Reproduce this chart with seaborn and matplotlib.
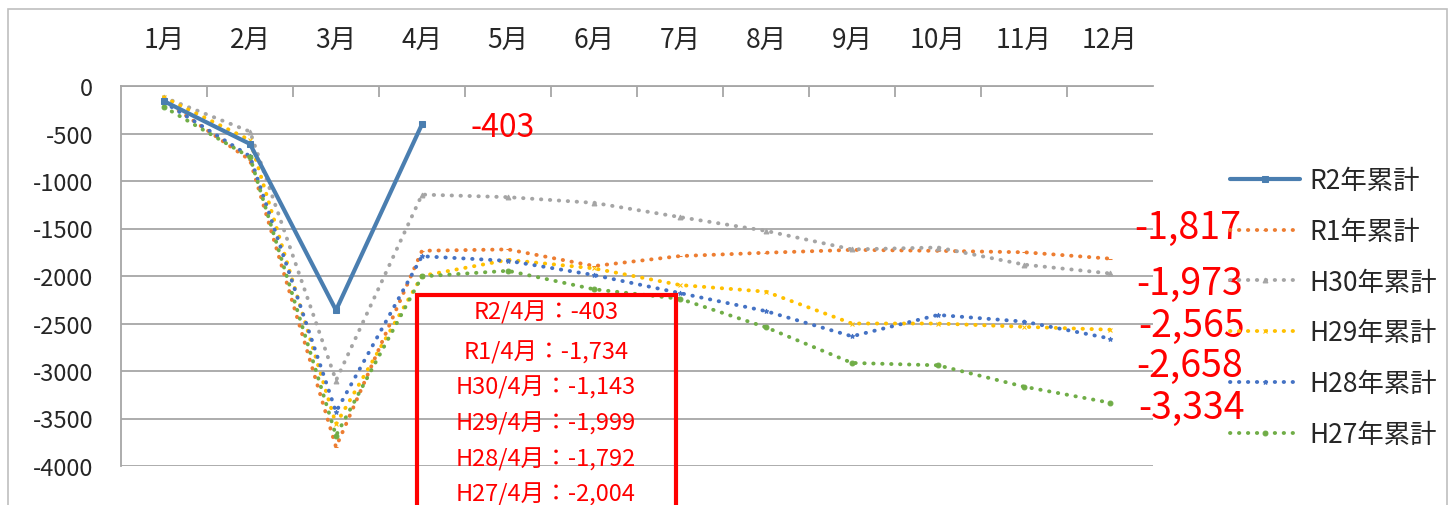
import matplotlib
matplotlib.use("Agg")
import matplotlib.pyplot as plt
import matplotlib.patches as mpatches
import seaborn as sns
import numpy as np

sns.set_style("white")
plt.rcParams['font.family'] = ['Noto Sans CJK JP', 'DejaVu Sans']

months = ['1月', '2月', '3月', '4月', '5月', '6月', '7月', '8月', '9月', '10月', '11月', '12月']
r2 = [-160, -610, -2360, -403]
r1 = [-150, -780, -3800, -1734, -1720, -1895, -1790, -1755, -1725, -1735, -1750, -1817]
h30 = [-120, -480, -3100, -1143, -1170, -1230, -1380, -1525, -1720, -1700, -1880, -1973]
h29 = [-120, -570, -3560, -1999, -1830, -1920, -2095, -2165, -2500, -2500, -2535, -2565]
h28 = [-170, -740, -3430, -1792, -1840, -1990, -2180, -2370, -2635, -2410, -2480, -2658]
h27 = [-220, -750, -3680, -2004, -1945, -2140, -2240, -2540, -2915, -2940, -3165, -3334]

series_names = ['R2年累計', 'R1年累計', 'H30年累計', 'H29年累計', 'H28年累計', 'H27年累計']
series_vals = [r2, r1, h30, h29, h28, h27]
colors = ['#4A7EB0', '#ED7D31', '#A5A5A5', '#FFC000', '#4472C4', '#70AD47']
markers = ['s', '_', '^', 'x', '*', 'o']

box_lines = ['R2/4月：-403', 'R1/4月：-1,734', 'H30/4月：-1,143',
             'H29/4月：-1,999', 'H28/4月：-1,792', 'H27/4月：-2,004']
end_labels = ['-1,817', '-1,973', '-2,565', '-2,658', '-3,334']
r2_label = '-403'

W, H = 1455, 506
fig = plt.figure(figsize=(W / 100, H / 100), dpi=100)
ax = fig.add_axes([121 / W, 1 - 467 / H, (1153 - 121) / W, (467 - 87) / H])

grid_c = '#A6A6A6'
for i, (name, vals, c, m) in enumerate(zip(series_names, series_vals, colors, markers)):
    x = np.arange(len(vals))
    if i == 0:
        sns.lineplot(x=x, y=vals, ax=ax, color=c, lw=3, marker=m, markersize=5,
                     markeredgecolor=c, label=name, zorder=5, sort=False)
    else:
        sns.lineplot(x=x, y=vals, ax=ax, color=c, lw=2.8, marker=m, markersize=3.5,
                     markeredgecolor=c, label=name, dashes=False, sort=False,
                     linestyle=(0, (0.1, 2.2)), dash_capstyle='round', zorder=4)

ax.set_xlim(-0.5, 11.5)
ax.set_ylim(-4000, 0)
ax.set_yticks(np.arange(-4000, 1, 500))
ax.set_yticklabels([str(v) for v in np.arange(-4000, 1, 500)], fontsize=17)
ax.yaxis.grid(True, color=grid_c, lw=1.3)
ax.tick_params(axis='y', length=0, pad=20)

ax.xaxis.set_ticks_position('top')
ax.set_xticks(np.arange(12))
ax.set_xticklabels(months, fontsize=19)
ax.set_xticks(np.arange(0.5, 11.5, 1), minor=True)
ax.tick_params(axis='x', which='major', length=0, pad=23)
ax.tick_params(axis='x', which='minor', direction='in', length=8, width=1.3, color=grid_c, top=True, bottom=False)
ax.set_xlabel('')
ax.set_ylabel('')

for s in ['right', 'bottom']:
    ax.spines[s].set_visible(False)
for s in ['left', 'top']:
    ax.spines[s].set_color(grid_c)
    ax.spines[s].set_linewidth(1.3)

# legend
handles, labels = ax.get_legend_handles_labels()
ax.get_legend().remove()
fig.legend(handles, labels, loc='upper left', bbox_to_anchor=(1217 / W, 1 - 155 / H),
           frameon=False, fontsize=19, handlelength=2.65, handletextpad=0.34,
           labelspacing=0.9, borderpad=0)

# annotations
fig.text(470 / W, 1 - 128 / H, r2_label, color='red', fontsize=23, ha='left', va='center')
end_pos = [(1241, 228), (1243, 284), (1245, 326), (1243, 366), (1245, 408)]
for lab, (px, py) in zip(end_labels, end_pos):
    fig.text(px / W, 1 - py / H, lab, color='red', fontsize=27, ha='right', va='center')

# red box
fig.patches.append(mpatches.Rectangle((417 / W, -0.05), (676 - 417) / W, 1 - 296 / H + 0.05,
                                      transform=fig.transFigure, fill=False, ec='red', lw=3,
                                      zorder=10, figure=fig))
box_y = [313, 353, 388, 424, 460, 495]
for t, py in zip(box_lines, box_y):
    fig.text(546 / W, 1 - py / H, t, color='red', fontsize=17, ha='center', va='center', zorder=11)

# outer frame
fig.patches.append(mpatches.Rectangle((8 / W, -0.05), (1447 - 8) / W, 1 - 10 / H + 0.05,
                                      transform=fig.transFigure, fill=False, ec='#BFBFBF', lw=1.2,
                                      figure=fig))

fig.savefig('out.png', dpi=100)
